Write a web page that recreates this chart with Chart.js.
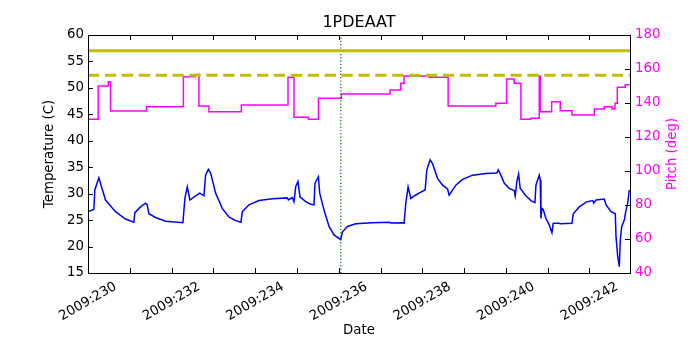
<!DOCTYPE html>
<html>
<head>
<meta charset="utf-8">
<script src="https://cdn.jsdelivr.net/npm/chart.js@4.4.1/dist/chart.umd.min.js"></script>
<style>
html,body{margin:0;padding:0;background:#fff;}
#wrap{width:700px;height:350px;}
</style>
</head>
<body>
<div id="wrap"><canvas id="c" width="700" height="350"></canvas></div>
<script>
// ---- data ----
const tempDays = [230.00,230.14,230.163,230.259,230.419,230.659,230.898,231.097,231.121,231.257,231.377,231.418,231.456,231.617,231.856,232.271,232.319,232.376,232.438,232.575,232.671,232.774,232.814,232.879,232.934,233.054,233.214,233.372,233.533,233.660,233.693,233.851,234.091,234.412,234.771,234.795,234.891,234.929,234.970,235.025,235.073,235.210,235.329,235.408,235.432,235.514,235.545,235.648,235.768,235.887,236.048,236.089,236.208,236.407,236.807,237.205,237.246,237.526,237.564,237.605,237.660,237.725,237.844,237.964,238.067,238.108,238.187,238.244,238.364,238.484,238.604,238.642,238.802,238.963,239.202,239.521,239.784,239.816,239.880,239.959,240.079,240.199,240.223,240.263,240.304,240.343,240.479,240.599,240.695,240.719,240.798,240.822,240.838,240.862,240.893,240.958,241.037,241.102,241.133,241.277,241.300,241.581,241.612,241.756,241.916,242.077,242.101,242.156,242.355,242.395,242.515,242.618,242.635,242.675,242.714,242.738,242.771,242.834,242.874,242.915,242.953];
const tempValues = [26.6,27.0,30.7,33.0,28.8,26.6,25.2,24.6,26.4,27.5,28.2,27.9,26.2,25.5,24.8,24.5,29.1,31.3,28.8,29.6,30.1,29.6,33.5,34.6,33.9,30.1,27.2,25.6,24.9,24.6,26.6,27.9,28.7,29.05,29.2,28.8,29.25,28.5,31.3,32.3,29.4,28.5,28.0,27.9,32.0,33.2,30.1,26.9,23.8,22.2,21.3,22.8,23.8,24.3,24.5,24.6,24.45,24.5,24.4,28.2,31.3,29.1,29.75,30.3,30.7,34.5,36.4,35.7,32.9,31.6,30.9,29.7,31.6,32.7,33.5,33.8,33.9,34.5,33.5,32.0,31.0,30.6,29.6,32.3,33.7,31.0,29.6,28.7,28.3,31.6,33.5,32.6,25.3,27.2,27.0,25.3,24.1,22.6,24.4,24.4,24.3,24.4,26.2,27.5,28.4,28.7,28.2,28.8,29.0,27.9,26.6,26.2,21.9,18.2,16.2,21.2,23.8,25.0,26.9,28.2,30.7];

const pitchDays = [230.00,230.244,230.484,230.539,231.401,232.283,232.563,232.654,232.893,233.670,234.786,234.929,235.274,235.514,236.065,237.229,237.485,237.564,238.163,238.618,239.760,240.017,240.199,240.359,240.599,240.798,240.822,241.095,241.301,241.581,242.115,242.355,242.539,242.611,242.666,242.857,242.970];
const pitchValues = [130.4,150.0,152.5,135.3,137.8,155.5,156.8,138.2,134.9,138.8,155.1,131.6,130.4,142.8,145.3,147.6,151.6,155.9,155.1,138.2,139.8,154.1,151.6,130.4,131.0,155.9,134.9,140.8,135.5,132.9,136.5,137.8,136.5,139.8,149.2,150.8,150.8];

const planningLimit = 57.0;   // solid yellow
const cautionLimit = 52.4;    // dashed yellow
const markerDay = 236.05;     // dotted vertical line

const xRange = [230, 242.97];
const tempRange = [15, 60];
const pitchRange = [40, 180];
const xTickDays = [230,231,232,233,234,235,236,237,238,239,240,241,242];
const xLabelDays = [230,232,234,236,238,240,242];
const xTickLabels = ['2009:230','2009:232','2009:234','2009:236','2009:238','2009:240','2009:242'];
const leftTicks = [15,20,25,30,35,40,45,50,55,60];
const rightTicks = [40,60,80,100,120,140,160,180];

const chartTitle = '1PDEAAT';
const xTitle = 'Date';
const leftTitle = 'Temperature (C)';
const rightTitle = 'Pitch (deg)';

// ---- build ----
const tempData = tempDays.map((d,i)=>({x:d,y:tempValues[i]}));
const pitchData = pitchDays.map((d,i)=>({x:d,y:pitchValues[i]}));

const FONT = '"DejaVu Sans", sans-serif';
const MAG = '#ff00ff';

const decor = {
  id:'decor',
  afterDraw(chart){
    const ctx = chart.ctx;
    const a = chart.chartArea;
    const xs = chart.scales.x, yl = chart.scales.y, yr = chart.scales.y2;
    const TL = 5;
    ctx.save();
    // frame
    ctx.strokeStyle = '#000';
    ctx.lineWidth = 1;
    ctx.strokeRect(Math.round(a.left)+0.5, Math.round(a.top)+0.5, Math.round(a.right-a.left), Math.round(a.bottom-a.top));
    // x ticks (bottom and top, inward)
    ctx.beginPath();
    xTickDays.forEach(d=>{
      const x = Math.round(xs.getPixelForValue(d))+0.5;
      ctx.moveTo(x, a.bottom); ctx.lineTo(x, a.bottom-TL);
      ctx.moveTo(x, a.top); ctx.lineTo(x, a.top+TL);
    });
    leftTicks.forEach(v=>{
      const y = Math.round(yl.getPixelForValue(v))+0.5;
      ctx.moveTo(a.left, y); ctx.lineTo(a.left+TL, y);
    });
    rightTicks.forEach(v=>{
      const y = Math.round(yr.getPixelForValue(v))+0.5;
      ctx.moveTo(a.right, y); ctx.lineTo(a.right-TL, y);
    });
    ctx.stroke();

    // tick labels
    const fs = 13.33;
    ctx.font = fs+'px '+FONT;
    ctx.fillStyle = '#000';
    ctx.textAlign = 'right'; ctx.textBaseline = 'middle';
    leftTicks.forEach(v=>{ ctx.fillText(String(v), a.left-4, yl.getPixelForValue(v)); });
    ctx.fillStyle = MAG; ctx.textAlign = 'left';
    rightTicks.forEach(v=>{ ctx.fillText(String(v), a.right+5, yr.getPixelForValue(v)); });

    // rotated x labels (centered on tick, 30 deg)
    ctx.fillStyle = '#000';
    const ang = 30*Math.PI/180;
    xLabelDays.forEach((d,i)=>{
      const txt = xTickLabels[i];
      const w = ctx.measureText(txt).width;
      const h = fs*1.15;
      const H = w*Math.sin(ang) + h*Math.cos(ang);
      const cx = xs.getPixelForValue(d);
      const cy = a.bottom + 6 + H/2;
      ctx.save();
      ctx.translate(cx, cy);
      ctx.rotate(-ang);
      ctx.textAlign = 'center'; ctx.textBaseline = 'middle';
      ctx.fillText(txt, 0, 0);
      ctx.restore();
    });

    // axis titles
    ctx.textAlign = 'center'; ctx.textBaseline = 'middle';
    ctx.fillText(xTitle, (a.left+a.right)/2, 331);
    ctx.save();
    ctx.translate(50, (a.top+a.bottom)/2);
    ctx.rotate(-Math.PI/2);
    ctx.fillText(leftTitle, 0, 0);
    ctx.restore();
    ctx.save();
    ctx.fillStyle = MAG;
    ctx.translate(673, (a.top+a.bottom)/2);
    ctx.rotate(-Math.PI/2);
    ctx.fillText(rightTitle, 0, 0);
    ctx.restore();

    // title
    ctx.fillStyle = '#000';
    ctx.font = '16px '+FONT;
    ctx.textAlign = 'center'; ctx.textBaseline = 'alphabetic';
    ctx.fillText(chartTitle, (a.left+a.right)/2, 27);
    ctx.restore();
  }
};

new Chart(document.getElementById('c'), {
  type:'line',
  data:{
    datasets:[
      {data:[{x:xRange[0],y:planningLimit},{x:xRange[1],y:planningLimit}], borderColor:'#bfbf00', borderWidth:3, pointRadius:0, yAxisID:'y'},
      {data:[{x:xRange[0],y:cautionLimit},{x:xRange[1],y:cautionLimit}], borderColor:'#bfbf00', borderWidth:3, borderDash:[11.3,5.6], pointRadius:0, yAxisID:'y'},
      {data:[{x:markerDay,y:tempRange[0]},{x:markerDay,y:tempRange[1]}], borderColor:'#006400', borderWidth:1.2, borderDash:[1.2,2.1], pointRadius:0, yAxisID:'y'},
      {data:tempData, borderColor:'#0000ff', borderWidth:1.5, pointRadius:0, tension:0, yAxisID:'y'},
      {data:pitchData, borderColor:MAG, borderWidth:1.5, pointRadius:0, stepped:'before', yAxisID:'y2'}
    ]
  },
  options:{
    responsive:false,
    animation:false,
    devicePixelRatio:1,
    layout:{padding:{left:88,right:70,top:35,bottom:77}},
    plugins:{legend:{display:false},tooltip:{enabled:false},title:{display:false}},
    scales:{
      x:{type:'linear', display:false, min:xRange[0], max:xRange[1]},
      y:{type:'linear', display:false, position:'left', min:tempRange[0], max:tempRange[1]},
      y2:{type:'linear', display:false, position:'right', min:pitchRange[0], max:pitchRange[1]}
    }
  },
  plugins:[decor]
});
</script>
</body>
</html>
